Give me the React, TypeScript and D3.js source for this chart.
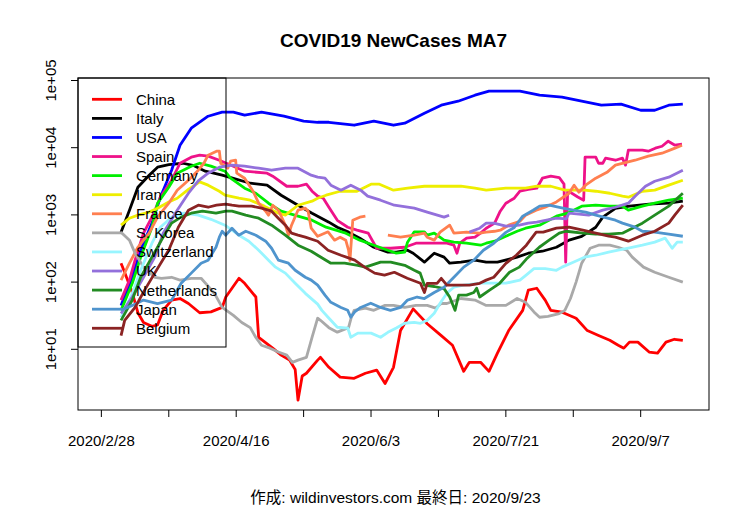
import * as d3 from "d3";

type Pt = [number, number | null];

// day offsets from 2020/2/28, 7-day moving average of new cases
const START = new Date(2020, 1, 28);
const LAST_DAY = 208; // 2020/9/23

const countries = [
  "China", "Italy", "USA", "Spain", "Germany", "Iran", "France",
  "S. Korea", "Switzerland", "UK", "Netherlands", "Japan", "Belgium",
];
const colors = [
  "#FF0000", "#000000", "#0000FF", "#EE1289", "#00EE00", "#EEEE00", "#FF7F50",
  "#A9A9A9", "#98F5FF", "#9370DB", "#228B22", "#4F94CD", "#8B2323",
];

const china: Pt[] = [[7,191],[8,150],[11,70],[13,35],[15,25],[18,22],[20,23],[22,38],[25,54],[28,57],[31,48],[35,35],[39,36],[43,42],[44.3,60],[49,114],[51,96],[55,60],[56,15],[61,10.4],[64,8.2],[67,6.9],[69,5],[70,1.75],[71.5,4],[73,4.4],[77,6.9],[78,7.6],[81,5.4],[85,3.85],[90,3.7],[94,4.4],[98,4.9],[101,3.1],[104,5.4],[106.5,19],[111,40],[116,24],[121,16],[125,11.5],[129,4.7],[131,6.4],[135,6.4],[138,4.7],[141,8.75],[145,19],[150,38],[152,76],[155,81],[158,54],[160,38],[164,35.6],[169,29],[173,19],[177,16],[181,13.6],[184,11.5],[186,10.4],[188,12.8],[191,12.8],[195,9.1],[198,8.75],[201,12.8],[204,14.1],[207,13.6]];
const italy: Pt[] = [[7,550],[10,1175],[13,2583],[17,3900],[20,5130],[24,5600],[29,5870],[33,5400],[37,4470],[43,3900],[47,3500],[53,2960],[59,2770],[64,1960],[70,1390],[75,1060],[81,780],[84,656],[88,554],[92,451],[97,330],[102,279],[105,279],[109,298],[111,269],[115,198],[118.5,269],[122,235],[124,191],[128,198],[133,212],[137,198],[141,198],[148,235],[152,269],[157,288],[162,330],[166.5,421],[171,480],[176,656],[178.5,925],[183,1250],[188,1346],[195,1443],[202,1493],[207,1600]];
const usa: Pt[] = [[7,45],[11,118],[14,298],[18,754],[21,1833],[25,4620],[28,10900],[32,19500],[38,29400],[43,33800],[47,33800],[51,30500],[57,33800],[65,29400],[72,24800],[77,23900],[81,23900],[90,21600],[97,24800],[104,21600],[108,23200],[115,32600],[121,42900],[127,49200],[133,60400],[138,69300],[149,69300],[156,60400],[164,56400],[171,49200],[178,42900],[185,44400],[192,36100],[197,36100],[202,42900],[207,44400]];
const spain: Pt[] = [[7,54],[10,107],[12,212],[15,535],[18,925],[21,1833],[25,3280],[28,5870],[32,7230],[35,7730],[38,7480],[42,6510],[47,5310],[51,4470],[59,4180],[61,3770],[66,2670],[70,2670],[73,2870],[75,2250],[77,1900],[79,1770],[81,1300],[84,830],[87.7,655],[91,592],[95,535],[98,319],[103,319],[108,330],[112,379],[117,379],[123,379],[125.5,354],[126.6,269],[127.6,379],[130,450],[133,466],[135,535],[137,634],[140,754],[142,1135],[144,1493],[147,1770],[149,2250],[152,2400],[155,2495],[157,3516],[160,3770],[163,3600],[164.7,2870],[165.3,198],[166,2300],[169.6,1850],[171.7,1655],[172.2,7220],[176,7220],[177,5870],[178.5,5870],[179.5,6980],[183,6510],[185.5,6980],[186.6,5500],[187.6,9180],[192.6,9180],[194.7,8870],[197.2,9840],[199.6,10520],[201.8,12500],[204.2,10900],[206.7,11270]];
const germany: Pt[] = [[7,38],[11,96],[14,235],[18,656],[20,1493],[24,2583],[27,4180],[32,5300],[35,5870],[39,5310],[44,4470],[46,3516],[51,2495],[55,2100],[59.5,1493],[64,1135],[70,957],[75,834],[80,656],[87,535],[92,421],[97,354],[102,298],[105,269],[108,279],[109,393],[111.4,560],[115,560],[116,499],[118.5,535],[122,421],[125.5,393],[130,379],[135,354],[137,379],[140,406],[144,482],[148,571],[151,634],[156,703],[162,957],[166,1060],[171,1350],[176,1393],[181,1350],[185.5,1350],[187.6,1175],[192.6,1350],[197,1493],[202,1655],[207,1770]];
const iran: Pt[] = [[7,703],[10,893],[13,990],[17,1100],[20,1259],[24,1560],[27,1770],[31,2400],[35,3100],[38,2770],[42,2250],[44,1963],[49,1770],[53,1655],[58,1350],[63,1060],[65.5,990],[70,1393],[75,1600],[77,1770],[80,1963],[85,2250],[91,2250],[96,2865],[99,2865],[104,2333],[109,2495],[115,2670],[121,2670],[128,2670],[133,2495],[137,2333],[144,2495],[151,2495],[155,2670],[160,2670],[165,2333],[172,2333],[176,2250],[181,2100],[185.5,1900],[187.6,1833],[192.6,2250],[197,2333],[202,2770],[207,3280]];
const france: Pt[] = [[7,107],[10,191],[13,330],[17,535],[20,925],[24,1493],[27,2333],[31,3280],[34.5,4620],[36.5,5870],[38,7730],[41,8870],[42,8870],[42.5,5870],[44,5310],[45,4950],[46,6300],[47.8,6510],[48.2,4180],[51,3516],[54,2250],[56,1493],[58.5,1135],[59.5,990],[61,1393],[63,1175],[65.5,703],[66.6,499],[67.7,703],[70,1175],[72.6,1259],[73.6,1135],[74.7,634],[77,480],[80.7,560],[83,421],[85,466],[87,420],[88,300],[88.5,210],[89.5,830],[92,925],[94,957],[95,null],[101,null],[102,499],[106.5,466],[111.4,499],[115,535],[116,466],[118.5,421],[120.6,554],[124,703],[125.5,535],[130,554],[134.7,535],[137,554],[140,571],[142,592],[145,703],[149,805],[151,990],[154.8,1175],[158,1300],[162,1560],[166.5,2100],[168.3,2770],[170,2180],[172.4,2770],[176,3516],[180,4300],[183,5500],[190,6510],[194.7,7480],[199.6,8280],[204.2,9840],[206.7,10900]];
const korea: Pt[] = [[7,553],[10,421],[12,269],[15,167],[19,118],[21.4,114],[25,118],[28,107],[32,114],[35.5,114],[38.3,84],[40.5,65],[43,42],[47,32],[50,25],[53,21],[55,15],[57,11.5],[60,10.4],[63,9.1],[66,8.2],[68,6.4],[70,6.9],[73,7.6],[75,15],[77,29],[78,27],[81,21],[84,18],[88,21],[89,30],[90,38],[94,41],[97,38],[101,45],[104,45],[108,42],[112,45],[116,45],[119,41],[121,48],[123,48],[128,57],[133,54],[137,45],[141,45],[144,45],[148,57],[151,50],[154,36],[156,30],[159,31],[163,34],[165,38],[167,57],[169,100],[171,191],[174,319],[177,354],[181,354],[184,330],[187,298],[189,235],[193,167],[197,140],[202,118],[207,100]];
const switzerland: Pt[] = [[7,30],[11,68],[14,150],[18,379],[21,656],[25,925],[29.5,1060],[34.5,990],[39,860],[44,703],[49,499],[52.5,406],[56,298],[59.5,212],[62,167],[65.5,136],[69,96],[72.6,68],[77,47],[78.5,38],[80.7,30],[84,21.3],[87.7,20.7],[88.8,15.1],[91.3,17.4],[96,17.4],[99.4,15.1],[102,17.9],[105,20.7],[108,24.4],[111.4,25.1],[113.6,24.4],[116,27.1],[118.5,34.4],[120.6,48.5],[123,68.4],[125.5,83.9],[129,89.9],[135,96.3],[140,96.3],[144,96.3],[149,107],[151,125],[154,159],[158,159],[162,150],[164,167],[168,198],[172,235],[176,251],[180.6,279],[184,298],[187.6,319],[192.6,354],[197,393],[200.7,451],[203.2,319],[205,393],[207,393]];
const uk: Pt[] = [[7,34],[11,60],[15,118],[19,235],[22,535],[27,1175],[31,2100],[34.5,3200],[38,4180],[42,5130],[46.5,5500],[51,5310],[56,4950],[60.6,4620],[65.5,4950],[70,4950],[74.7,3900],[77,3640],[79.6,3516],[81.7,2770],[85.3,2333],[88.8,2770],[92.3,2333],[94.8,1900],[99.4,1655],[104.3,1393],[111.4,1259],[116,1100],[122,925],[123.8,990],[124.5,null],[130.5,null],[131,554],[134.7,634],[137,754],[139.7,754],[144,680],[148.8,703],[152,754],[155,780],[162,893],[165.4,870],[166.5,1060],[173.5,990],[178.5,1175],[183,1300],[187.6,1493],[190,1900],[193.7,2670],[197,3170],[202,3640],[207,4620]];
const netherlands: Pt[] = [[7,27],[11,54],[14,118],[18,235],[21.4,421],[25,754],[28.4,925],[32,1060],[36,1135],[40.8,1060],[44.3,1135],[46.5,1135],[51.4,990],[56,893],[60.6,703],[65.5,499],[70,354],[74.7,288],[77,251],[81.7,191],[86.6,191],[91.3,178],[94,167],[99.4,198],[103,198],[108,178],[111.4,150],[113.5,136],[115,90],[118.5,86],[122,80],[124,60],[125.9,38],[127.2,64],[130,64],[132.6,70],[133.6,81],[134.7,60],[138.2,76],[141.8,96],[145.3,140],[148.8,167],[151.3,220],[155.9,330],[159.4,421],[163,535],[165.4,571],[171.4,535],[176,516],[180.6,516],[185.5,535],[187.6,592],[192.6,754],[197,990],[202,1350],[207,2100]];
const japan: Pt[] = [[7,38],[11,45],[15,54],[20,48],[25,54],[28.4,96],[32,136],[35.5,191],[38,212],[40.8,330],[42,466],[43,571],[44.3,499],[46.5,634],[48.9,499],[51.4,571],[55,499],[58.5,406],[60.6,319],[63,212],[66.6,191],[69,150],[72.6,118],[74.7,107],[77,90],[79.6,64],[81.7,50],[85.3,42],[87.7,38],[88.8,30],[90.2,36],[92.3,42],[95.9,48.5],[99.4,42],[102.9,38],[106.5,42],[109,54],[112.4,60],[115,57],[118.5,70],[122,84],[125.5,118],[129,167],[132.6,212],[136,298],[139.7,379],[144,550],[147,650],[150,957],[153.7,1175],[156,1350],[159.4,1393],[164.3,1259],[168,1175],[172.4,1100],[176,990],[183,834],[185.5,754],[190,656],[192.6,571],[197,554],[202,516],[207,481]];
const belgium: Pt[] = [[7,16],[8.3,27],[12,42],[15.4,76],[19,136],[24,300],[27.4,656],[31,1175],[34.5,1393],[38,1300],[41,1393],[44.3,1443],[46.5,1393],[49,1350],[53.5,1350],[57,1259],[60.6,1135],[63,893],[65.5,703],[67.7,535],[70,499],[72.6,466],[77,406],[80.7,298],[85.3,251],[90.2,212],[93.7,167],[97.3,136],[100.8,127],[104.3,140],[108.9,114],[113.6,96],[115,70],[116,96],[119.5,96],[121,114],[123,90],[126.6,90],[131,90],[134.7,96],[137,107],[139.7,118],[144,190],[147.7,251],[151.3,354],[154.8,554],[157.3,554],[162,634],[166.5,656],[171.4,592],[176,535],[180.6,482],[183,466],[187.6,406],[192.6,499],[197,571],[202,754],[204.2,1000],[207,1393]];

const series = [china, italy, usa, spain, germany, iran, france, korea, switzerland, uk, netherlands, japan, belgium];

const xTickStep = 24;
const xTickLabels = ["2020/2/28", "2020/4/16", "2020/6/3", "2020/7/21", "2020/9/7"];
const yTicks = [10, 100, 1000, 10000, 100000];
const yTickLabels = ["1e+01", "1e+02", "1e+03", "1e+04", "1e+05"];

const title = "COVID19 NewCases MA7";
const footer = "作成: wildinvestors.com 最終日: 2020/9/23";

const W = 750;
const H = 511;
const box = { left: 78, right: 709, top: 78, bottom: 410 };
const FONT = "'Liberation Sans', Arial, 'Noto Sans CJK JP', sans-serif";

const toDate = (day: number) => new Date(START.getTime() + day * 864e5);

export default function App() {
  const pad = LAST_DAY * 0.04;
  const x = d3
    .scaleTime()
    .domain([toDate(-pad), toDate(LAST_DAY + pad)])
    .range([box.left, box.right]);
  // log axis, 1e+01 sits at y=349.3 and a decade is 67.2px
  const decade = 67.2;
  const y = d3
    .scaleLog()
    .domain([
      Math.pow(10, 1 - (box.bottom - 349.3) / decade),
      Math.pow(10, 1 + (349.3 - box.top) / decade),
    ])
    .range([box.bottom, box.top]);

  const line = d3
    .line<Pt>()
    .defined((d) => d[1] != null)
    .x((d) => x(toDate(d[0])))
    .y((d) => y(d[1] as number));

  const xTicks = d3.range(0, LAST_DAY, xTickStep);

  return (
    <svg
      width={W}
      height={H}
      style={{ position: "absolute", left: 0, top: 0, background: "#fff" }}
      fontFamily={FONT}
    >
      <defs>
        <clipPath id="plotclip">
          <rect x={box.left} y={box.top} width={box.right - box.left} height={box.bottom - box.top} />
        </clipPath>
      </defs>
      <g clipPath="url(#plotclip)">
        {series.map((s, i) => (
          <path key={countries[i]} d={line(s) ?? ""} fill="none" stroke={colors[i]} strokeWidth={2.8} strokeLinejoin="round" />
        ))}
      </g>

      <rect x={box.left} y={box.top} width={box.right - box.left} height={box.bottom - box.top} fill="none" stroke="#000" strokeWidth={1} />

      {xTicks.map((d, i) => (
        <g key={d}>
          <line x1={x(toDate(d))} x2={x(toDate(d))} y1={box.bottom} y2={box.bottom + 7} stroke="#000" />
          {i % 2 === 0 && (
            <text x={x(toDate(d))} y={446} fontSize={15} textAnchor="middle">
              {xTickLabels[i / 2]}
            </text>
          )}
        </g>
      ))}

      {yTicks.map((v, i) => (
        <g key={v}>
          <line x1={box.left - 7} x2={box.left} y1={y(v)} y2={y(v)} stroke="#000" />
          <text transform={`translate(56,${y(v)}) rotate(-90)`} fontSize={15} textAnchor="middle">
            {yTickLabels[i]}
          </text>
        </g>
      ))}

      <text x={(box.left + box.right) / 2} y={47} fontSize={19} fontWeight="bold" textAnchor="middle">
        {title}
      </text>
      <text x={(box.left + box.right) / 2 + 2} y={503} fontSize={15.5} textAnchor="middle">
        {footer}
      </text>

      <g>
        <rect x={box.left} y={box.top} width={148} height={269} fill="none" stroke="#000" />
        {countries.map((c, i) => {
          const cy = 99.3 + i * 19.08;
          return (
            <g key={c}>
              <line x1={92} x2={122} y1={cy} y2={cy} stroke={colors[i]} strokeWidth={2.8} />
              <text x={136} y={cy} dy="0.36em" fontSize={15}>
                {c}
              </text>
            </g>
          );
        })}
      </g>
    </svg>
  );
}
